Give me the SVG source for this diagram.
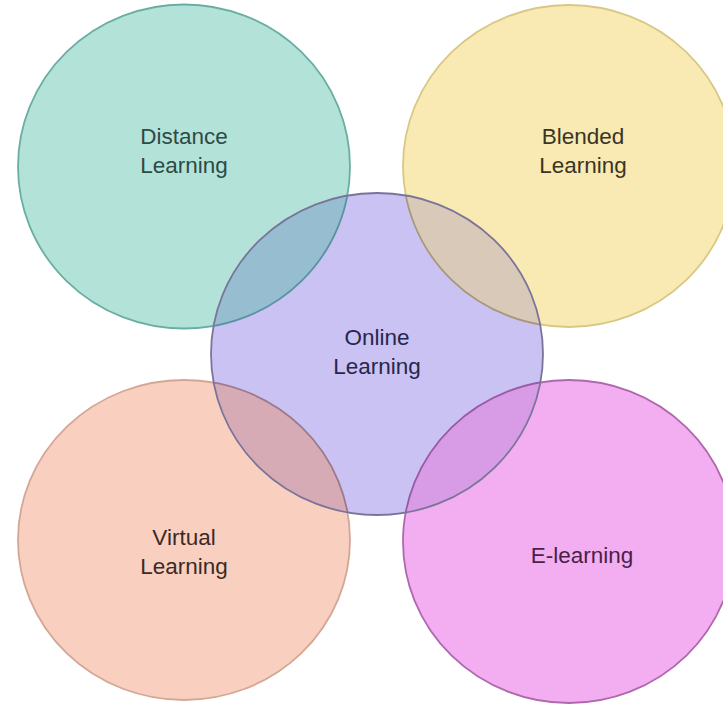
<svg xmlns="http://www.w3.org/2000/svg" width="723" height="707" viewBox="0 0 723 707">
<style>
.c{stroke-width:1.8}
.t{font-family:"Liberation Sans",Arial,sans-serif;font-size:22.5px;text-anchor:middle}
</style>
<defs>
<clipPath id="onclip"><ellipse cx="377" cy="354" rx="166" ry="161"/></clipPath>
</defs>
<rect width="723" height="707" fill="#ffffff"/>
<g id="distance">
<ellipse class="c" cx="184" cy="166.5" rx="166" ry="162" fill="#b3e3d8" stroke="#6aaea3"/>
<text class="t" fill="#2e4a45"><tspan x="184" y="144">Distance</tspan><tspan x="184" y="173">Learning</tspan></text>
</g>
<g id="blended">
<ellipse class="c" cx="569" cy="166" rx="166" ry="161" fill="#f8eab2" stroke="#d8c883"/>
<text class="t" fill="#3a3426"><tspan x="583" y="144">Blended</tspan><tspan x="583" y="173">Learning</tspan></text>
</g>
<g id="virtual">
<ellipse class="c" cx="184" cy="540" rx="166" ry="160" fill="#f9d0c0" stroke="#d4a696"/>
<text class="t" fill="#3b2a27"><tspan x="184" y="545">Virtual</tspan><tspan x="184" y="574">Learning</tspan></text>
</g>
<g id="elearning">
<ellipse class="c" cx="569" cy="541.5" rx="166" ry="161.5" fill="#f2aef0" stroke="#b068ad"/>
<text class="t" fill="#4a1f48"><tspan x="582" y="563">E-learning</tspan></text>
</g>
<g id="online">
<ellipse cx="377" cy="354" rx="166" ry="161" fill="#c9c2f3"/>
<g clip-path="url(#onclip)">
<ellipse class="c" cx="184" cy="166.5" rx="166" ry="162" fill="#96bdd0" stroke="#5b92a3"/>
<ellipse class="c" cx="569" cy="166" rx="166" ry="161" fill="#d9c9b8" stroke="#a8987a"/>
<ellipse class="c" cx="184" cy="540" rx="166" ry="160" fill="#d6abb5" stroke="#9c7a8a"/>
<ellipse class="c" cx="569" cy="541.5" rx="166" ry="161.5" fill="#d89ce6" stroke="#9a5aa8"/>
</g>
<ellipse class="c" cx="377" cy="354" rx="166" ry="161" fill="none" stroke="#7a749a"/>
<text class="t" fill="#28264d"><tspan x="377" y="345">Online</tspan><tspan x="377" y="374">Learning</tspan></text>
</g>
<g id="connectors"></g>
</svg>
